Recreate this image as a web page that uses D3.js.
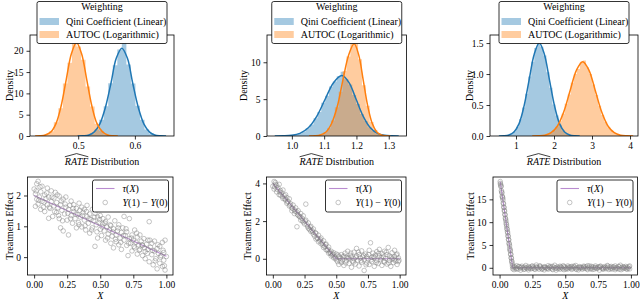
<!DOCTYPE html>
<html>
<head>
<meta charset="utf-8">
<script src="https://cdn.jsdelivr.net/npm/d3@7"></script>
<style>
  body { margin: 0; background: #fff; }
  text { font-family: 'Liberation Serif', 'DejaVu Serif', serif; }
</style>
</head>
<body>
<svg id="chart" width="640" height="300" font-family="Liberation Serif"></svg>
<script>
// ---- RATE bootstrap distributions: histogram bins [centre, density] ----
const binWidth1 = 0.008;
const qiniHist1 = [[0.501,0.01],[0.509,0.05],[0.517,0.2],[0.525,0.6],[0.533,1.5],[0.541,3.8],[0.549,7.0],[0.557,12.4],[0.565,16.6],[0.573,20.3],[0.581,22.6],[0.589,16.8],[0.597,12.3],[0.605,7.1],[0.613,3.8],[0.621,1.5],[0.629,0.6],[0.637,0.18],[0.645,0.04],[0.653,0.01]];
const autocHist1 = [[0.429,0.02],[0.437,0.1],[0.445,0.4],[0.453,1.1],[0.461,3.2],[0.469,6.5],[0.477,12.3],[0.485,17.2],[0.493,22.8],[0.501,21.0],[0.509,17.9],[0.517,11.6],[0.525,6.9],[0.533,2.9],[0.541,1.2],[0.549,0.35],[0.557,0.1],[0.565,0.02]];
const qiniKde1 = [[0.499,0.01],[0.509,0.05],[0.519,0.23],[0.528,0.9],[0.538,2.8],[0.548,6.7],[0.558,12.5],[0.567,18.2],[0.577,20.6],[0.587,18.2],[0.596,12.5],[0.606,6.7],[0.616,2.8],[0.626,0.9],[0.635,0.23],[0.645,0.05],[0.655,0.01]];
const autocKde1 = [[0.424,0.01],[0.433,0.05],[0.442,0.24],[0.452,0.96],[0.461,2.96],[0.470,7.1],[0.479,13.3],[0.488,19.3],[0.497,21.9],[0.506,19.3],[0.515,13.3],[0.524,7.1],[0.533,2.96],[0.543,0.96],[0.552,0.24],[0.561,0.05],[0.570,0.01]];

const binWidth2 = 0.012;
const qiniHist2 = [[0.965,0.01],[0.977,0.02],[0.989,0.05],[1.001,0.1],[1.013,0.2],[1.025,0.38],[1.037,0.6],[1.049,1.05],[1.061,1.55],[1.073,2.4],[1.085,3.25],[1.097,4.5],[1.109,5.45],[1.121,6.7],[1.133,7.4],[1.145,8.1],[1.157,8.7],[1.169,7.7],[1.181,7.0],[1.193,5.55],[1.205,4.35],[1.217,3.0],[1.229,2.05],[1.241,1.2],[1.253,0.7],[1.265,0.35],[1.277,0.18],[1.289,0.08],[1.301,0.03],[1.313,0.01],[1.325,0.005]];
const autocHist2 = [[1.055,0.005],[1.067,0.02],[1.079,0.06],[1.091,0.18],[1.103,0.46],[1.115,1.05],[1.127,2.1],[1.139,3.9],[1.151,6.0],[1.163,8.8],[1.175,10.8],[1.187,12.9],[1.199,13.3],[1.211,10.4],[1.223,6.9],[1.235,4.1],[1.247,1.9],[1.259,0.8],[1.271,0.26],[1.283,0.07],[1.295,0.02]];
const qiniKde2 = [[0.947,0.003],[0.973,0.02],[0.999,0.09],[1.025,0.36],[1.051,1.11],[1.077,2.67],[1.103,4.98],[1.129,7.23],[1.155,8.2],[1.177,7.23],[1.199,4.98],[1.221,2.67],[1.243,1.11],[1.265,0.36],[1.287,0.09],[1.309,0.02],[1.331,0.003]];
const autocKde2 = [[1.053,0.004],[1.071,0.03],[1.088,0.14],[1.106,0.55],[1.123,1.69],[1.141,4.06],[1.158,7.59],[1.176,11.0],[1.193,12.5],[1.207,11.0],[1.221,7.59],[1.235,4.06],[1.249,1.69],[1.263,0.55],[1.277,0.14],[1.291,0.03],[1.305,0.004]];

const binWidth3 = 0.08;
const qiniHist3 = [[0.72,0.005],[0.80,0.014],[0.88,0.034],[0.96,0.075],[1.04,0.15],[1.12,0.27],[1.20,0.46],[1.28,0.68],[1.36,0.96],[1.44,1.2],[1.52,1.42],[1.60,1.52],[1.68,1.44],[1.76,1.3],[1.84,1.03],[1.92,0.78],[2.00,0.51],[2.08,0.33],[2.16,0.18],[2.24,0.09],[2.32,0.045],[2.40,0.019],[2.48,0.008],[2.56,0.003]];
const autocHist3 = [[1.60,0.003],[1.68,0.006],[1.76,0.013],[1.84,0.027],[1.92,0.05],[2.00,0.09],[2.08,0.15],[2.16,0.24],[2.24,0.36],[2.32,0.52],[2.40,0.67],[2.48,0.86],[2.56,1.0],[2.64,1.08],[2.72,1.2],[2.80,1.22],[2.88,1.11],[2.96,1.0],[3.04,0.83],[3.12,0.66],[3.20,0.49],[3.28,0.34],[3.36,0.23],[3.44,0.14],[3.52,0.085],[3.60,0.047],[3.68,0.025],[3.76,0.012],[3.84,0.006],[3.92,0.003]];
const qiniKde3 = [[0.549,0.0005],[0.682,0.003],[0.815,0.017],[0.948,0.066],[1.081,0.2],[1.214,0.49],[1.347,0.91],[1.480,1.32],[1.613,1.5],[1.746,1.32],[1.879,0.91],[2.012,0.49],[2.145,0.2],[2.278,0.066],[2.411,0.017],[2.544,0.003],[2.677,0.0005]];
const autocKde3 = [[1.427,0.0004],[1.593,0.003],[1.759,0.013],[1.925,0.053],[2.091,0.162],[2.257,0.39],[2.423,0.73],[2.589,1.06],[2.755,1.2],[2.921,1.06],[3.087,0.73],[3.253,0.39],[3.419,0.162],[3.585,0.053],[3.751,0.013],[3.917,0.003],[4.083,0.0004]];

// ---- treatment effect curves and sampled Y(1) - Y(0) ----
const tauLinear = [[0.00,2.0],[1.00,0.03]];
const tauKink = [[0.00,4.0],[0.50,0.0],[1.00,0.0]];
const tauSpike = [[0.005,18.9],[0.10,0.0],[1.00,0.0]];

const scatterLinear = [[0.00,2.21],[0.01,1.65],[0.01,2.05],[0.02,1.88],[0.02,2.38],[0.03,1.72],[0.03,2.46],[0.04,1.95],[0.05,1.55],[0.05,2.12],[0.06,1.81],[0.06,2.30],[0.07,1.62],[0.08,2.02],[0.08,1.48],[0.09,1.90],[0.10,2.24],[0.10,1.70],[0.11,1.26],[0.11,1.95],[0.12,1.58],[0.13,2.15],[0.13,1.80],[0.14,1.32],[0.15,1.92],[0.15,1.66],[0.16,2.10],[0.17,1.45],[0.17,1.77],[0.18,1.60],[0.19,1.98],[0.19,1.25],[0.20,0.95],[0.20,1.70],[0.21,1.52],[0.22,1.88],[0.22,0.85],[0.23,1.40],[0.24,1.62],[0.24,1.95],[0.25,1.20],[0.26,1.55],[0.26,0.72],[0.27,1.68],[0.28,1.35],[0.28,1.82],[0.29,1.10],[0.30,1.48],[0.30,1.70],[0.31,1.25],[0.32,0.95],[0.32,1.58],[0.33,1.38],[0.34,1.75],[0.34,1.05],[0.35,1.30],[0.36,1.62],[0.36,0.98],[0.37,1.45],[0.38,1.20],[0.38,1.55],[0.39,0.88],[0.40,1.32],[0.40,1.68],[0.41,1.10],[0.42,1.40],[0.42,0.78],[0.43,1.22],[0.44,1.55],[0.44,0.95],[0.45,1.18],[0.46,1.42],[0.46,0.35],[0.47,1.05],[0.48,1.30],[0.48,0.62],[0.49,1.12],[0.50,0.90],[0.50,1.35],[0.51,0.70],[0.52,1.08],[0.52,1.25],[0.53,0.85],[0.54,1.15],[0.54,0.55],[0.55,0.98],[0.56,0.75],[0.56,1.30],[0.57,0.88],[0.58,0.45],[0.58,1.02],[0.59,0.68],[0.60,0.92],[0.60,0.30],[0.61,1.18],[0.62,0.72],[0.62,0.50],[0.63,0.85],[0.64,1.05],[0.64,0.40],[0.65,0.62],[0.66,0.80],[0.66,0.25],[0.67,0.95],[0.68,0.55],[0.68,1.32],[0.69,0.70],[0.70,0.38],[0.70,0.82],[0.71,0.05],[0.72,0.60],[0.72,1.25],[0.73,0.45],[0.74,0.72],[0.74,0.20],[0.75,0.55],[0.76,0.88],[0.76,0.30],[0.77,0.48],[0.78,0.65],[0.78,0.10],[0.79,0.40],[0.80,0.72],[0.80,0.25],[0.81,0.52],[0.82,0.05],[0.82,0.38],[0.83,0.60],[0.84,0.18],[0.84,-0.05],[0.85,0.42],[0.86,0.25],[0.86,0.55],[0.87,1.15],[0.87,-0.15],[0.88,0.32],[0.89,0.08],[0.89,0.45],[0.90,-0.25],[0.91,0.20],[0.91,0.52],[0.92,-0.05],[0.93,0.28],[0.93,-0.38],[0.94,0.12],[0.95,0.35],[0.95,-0.20],[0.96,0.05],[0.97,0.48],[0.97,-0.30],[0.98,0.15],[0.98,-0.10],[0.99,0.55],[0.99,-0.42],[1.00,0.02],
  [0.015,2.15],[0.035,1.85],[0.045,2.28],[0.075,1.78],[0.095,2.08],[0.115,1.62],[0.135,1.95],[0.155,1.48],[0.175,2.02],[0.185,1.35],[0.205,1.82],[0.215,1.18],[0.235,1.72],[0.255,1.42],[0.275,1.25],[0.295,1.58],[0.315,1.40],[0.335,1.12],[0.345,1.52],[0.365,1.35],[0.385,1.02],[0.395,1.48],[0.415,1.25],[0.435,0.88],[0.455,1.30],[0.475,0.82],[0.495,1.22],[0.515,0.98],[0.535,1.10],[0.555,0.62],[0.575,1.05],[0.595,0.82],[0.615,0.58],[0.635,0.95],[0.655,0.48],[0.675,0.70],[0.695,0.92],[0.715,0.45],[0.735,0.62],[0.755,0.35],[0.775,0.78],[0.795,0.22],[0.815,0.40],[0.835,0.30],[0.855,0.12],[0.875,0.55],[0.895,0.22],[0.915,-0.12],[0.935,0.40],[0.955,0.00],[0.975,0.22],[0.985,-0.28]];

const scatterKink = [[0.00,3.85],[0.01,4.10],[0.01,3.70],[0.02,3.95],[0.02,4.05],[0.03,3.55],[0.03,3.90],[0.04,3.78],[0.05,3.40],[0.05,3.95],[0.06,3.62],[0.06,3.38],[0.07,3.50],[0.08,3.20],[0.08,3.65],[0.09,3.35],[0.10,3.12],[0.10,3.40],[0.11,2.95],[0.11,3.25],[0.12,3.05],[0.13,2.80],[0.13,3.18],[0.14,2.92],[0.15,2.70],[0.15,2.55],[0.16,2.85],[0.17,2.60],[0.17,2.40],[0.18,2.70],[0.19,2.48],[0.19,1.70],[0.20,2.30],[0.20,2.55],[0.21,2.25],[0.22,2.40],[0.22,2.05],[0.23,2.15],[0.24,1.95],[0.24,2.28],[0.25,1.85],[0.26,2.05],[0.26,2.90],[0.27,1.80],[0.28,1.62],[0.28,1.90],[0.29,1.55],[0.30,1.72],[0.30,1.45],[0.31,1.50],[0.32,1.30],[0.32,1.58],[0.33,1.20],[0.34,1.35],[0.34,1.05],[0.35,1.10],[0.36,1.25],[0.36,0.90],[0.37,0.95],[0.38,0.80],[0.38,1.10],[0.39,0.85],[0.40,0.60],[0.40,0.95],[0.41,0.65],[0.42,0.48],[0.42,0.78],[0.43,0.45],[0.44,0.30],[0.44,0.62],[0.45,0.35],[0.46,0.15],[0.46,0.40],[0.47,0.20],[0.48,0.05],[0.48,0.32],[0.49,0.10],[0.50,-0.05],[0.50,0.25],[0.51,-0.15],[0.52,0.12],[0.52,-0.30],[0.53,0.05],[0.54,0.22],[0.54,-0.20],[0.55,-0.05],[0.56,0.15],[0.56,-0.35],[0.57,0.30],[0.58,-0.10],[0.58,0.08],[0.59,0.40],[0.60,-0.25],[0.60,0.02],[0.61,0.18],[0.62,-0.45],[0.62,0.10],[0.63,-0.12],[0.64,0.35],[0.64,0.00],[0.65,-0.28],[0.66,0.15],[0.66,0.55],[0.67,-0.08],[0.68,0.22],[0.68,-0.38],[0.69,0.05],[0.70,-0.18],[0.70,0.42],[0.71,0.10],[0.72,-0.62],[0.72,-0.05],[0.73,0.25],[0.74,-0.22],[0.74,0.12],[0.75,0.00],[0.76,0.45],[0.76,-0.30],[0.77,0.85],[0.78,0.08],[0.78,-0.15],[0.79,0.30],[0.80,-0.40],[0.80,0.05],[0.81,0.20],[0.82,-0.10],[0.82,0.38],[0.83,-0.25],[0.84,0.15],[0.84,0.50],[0.85,-0.05],[0.86,0.28],[0.86,-0.35],[0.87,0.10],[0.88,-0.18],[0.88,0.40],[0.89,0.02],[0.90,-0.28],[0.90,0.22],[0.91,0.60],[0.92,-0.08],[0.92,0.15],[0.93,-0.40],[0.94,0.32],[0.94,0.00],[0.95,-0.20],[0.96,0.12],[0.96,0.45],[0.97,-0.12],[0.98,0.25],[0.98,-0.30],[0.99,0.05],[0.99,-0.15],
  [0.015,3.82],[0.035,3.68],[0.055,3.55],[0.075,3.30],[0.095,3.18],[0.115,3.02],[0.135,2.85],[0.155,2.68],[0.175,2.52],[0.195,2.35],[0.215,2.22],[0.235,2.02],[0.255,2.00],[0.275,1.70],[0.295,1.68],[0.315,1.42],[0.335,1.38],[0.355,1.08],[0.375,1.02],[0.395,0.72],[0.415,0.75],[0.435,0.50],[0.455,0.28],[0.475,0.25],[0.495,0.02],[0.515,0.20],[0.535,-0.12],[0.555,0.10],[0.575,-0.22],[0.595,0.05],[0.615,0.30],[0.635,-0.18],[0.655,0.08],[0.675,0.35],[0.695,-0.10],[0.715,0.18],[0.735,-0.32],[0.755,0.22],[0.775,-0.05],[0.795,0.12],[0.815,-0.20],[0.835,0.28],[0.855,0.05],[0.875,-0.12],[0.895,0.35],[0.915,-0.22],[0.935,0.08],[0.955,-0.05],[0.975,0.20],[0.995,-0.08]];

const scatterSpike = [[0.005,18.9],[0.006,18.5],[0.008,18.2],[0.010,17.8],[0.012,17.9],[0.014,16.9],[0.016,16.6],[0.018,16.4],[0.020,15.7],[0.022,15.5],[0.024,15.3],[0.026,14.9],[0.028,14.2],[0.030,14.0],[0.032,13.3],[0.034,13.2],[0.036,12.6],[0.038,12.4],[0.040,11.7],[0.042,11.6],[0.044,10.9],[0.046,10.7],[0.048,10.3],[0.050,9.8],[0.052,9.5],[0.054,9.1],[0.056,8.6],[0.058,8.4],[0.060,7.9],[0.062,7.6],[0.064,7.0],[0.066,6.9],[0.068,6.2],[0.070,6.1],[0.072,5.4],[0.074,5.2],[0.076,4.8],[0.078,4.2],[0.080,3.9],[0.082,3.7],[0.084,3.0],[0.086,2.9],[0.088,2.2],[0.090,2.1],[0.092,1.5],[0.094,1.3],[0.096,0.9],[0.098,0.4],
  [0.10,-0.2],[0.11,0.3],[0.11,-0.4],[0.12,0.1],[0.13,-0.1],[0.13,0.45],[0.14,-0.3],[0.15,0.2],[0.16,-0.05],[0.16,-0.5],[0.17,0.35],[0.18,0.0],[0.19,-0.25],[0.19,0.15],[0.20,0.5],[0.21,-0.15],[0.22,0.25],[0.22,-0.45],[0.23,0.05],[0.24,-0.2],[0.25,0.4],[0.25,-0.1],[0.26,0.15],[0.27,-0.35],[0.28,0.2],[0.28,0.6],[0.29,-0.05],[0.30,-0.3],[0.31,0.1],[0.31,0.35],[0.32,-0.2],[0.33,0.0],[0.34,-0.45],[0.34,0.25],[0.35,0.05],[0.36,-0.15],[0.37,0.45],[0.37,-0.3],[0.38,0.1],[0.39,-0.05],[0.40,0.3],[0.40,-0.25],[0.41,0.15],[0.42,0.55],[0.43,-0.1],[0.43,-0.5],[0.44,0.2],[0.45,0.0],[0.46,-0.3],[0.46,0.35],[0.47,0.05],[0.48,-0.2],[0.49,0.25],[0.49,-0.4],[0.50,0.1],[0.51,-0.1],[0.52,0.4],[0.52,-0.25],[0.53,0.0],[0.54,0.2],[0.55,-0.35],[0.55,0.3],[0.56,-0.05],[0.57,0.15],[0.58,-0.2],[0.58,0.5],[0.59,0.05],[0.60,-0.45],[0.61,0.25],[0.61,-0.1],[0.62,0.1],[0.63,-0.3],[0.64,0.35],[0.64,0.0],[0.65,-0.15],[0.66,0.2],[0.67,-0.4],[0.67,0.45],[0.68,0.05],[0.69,-0.2],[0.70,0.3],[0.70,-0.05],[0.71,0.15],[0.72,-0.3],[0.73,0.0],[0.73,0.4],[0.74,-0.15],[0.75,0.2],[0.76,-0.5],[0.76,0.1],[0.77,0.35],[0.78,-0.1],[0.79,0.05],[0.79,-0.3],[0.80,0.25],[0.81,-0.2],[0.82,0.5],[0.82,0.0],[0.83,-0.35],[0.84,0.15],[0.85,-0.05],[0.85,0.3],[0.86,-0.25],[0.87,0.1],[0.88,-0.4],[0.88,0.4],[0.89,0.0],[0.90,-0.15],[0.91,0.2],[0.91,-0.3],[0.92,0.55],[0.93,0.05],[0.94,-0.2],[0.94,0.25],[0.95,-0.05],[0.96,0.3],[0.97,-0.35],[0.97,0.1],[0.98,-0.1],[0.99,0.4],[0.99,-0.25],
  [0.105,0.1],[0.125,-0.25],[0.145,0.3],[0.165,0.1],[0.185,-0.35],[0.205,0.05],[0.225,-0.1],[0.245,0.3],[0.265,-0.2],[0.285,0.05],[0.305,0.4],[0.325,-0.3],[0.345,0.1],[0.365,-0.05],[0.385,0.3],[0.405,-0.4],[0.425,0.0],[0.445,-0.2],[0.465,0.2],[0.485,0.45],[0.505,-0.3],[0.525,0.15],[0.545,-0.1],[0.565,0.35],[0.585,-0.35],[0.605,0.1],[0.625,-0.05],[0.645,0.25],[0.665,-0.2],[0.685,0.4],[0.705,-0.35],[0.725,0.1],[0.745,-0.05],[0.765,0.3],[0.785,-0.2],[0.805,0.05],[0.825,0.35],[0.845,-0.25],[0.865,0.2],[0.885,-0.1],[0.905,0.3],[0.925,-0.4],[0.945,0.1],[0.965,-0.15],[0.985,0.25]];

// ---- tick values and legend labels ----
const densityXTicks = [[0.5, 0.6], [1.0, 1.1, 1.2, 1.3], [1, 2, 3, 4]];
const densityYTicks = [[0, 5, 10, 15, 20], [0, 5, 10], [0, 0.5, 1.0, 1.5]];
const effectXTicks = [0, 0.25, 0.5, 0.75, 1.0];
const effectYTicks = [[0, 1, 2], [0, 2, 4], [0, 5, 10, 15]];
const weightingLabels = ["Qini Coefficient (Linear)", "AUTOC (Logarithmic)"];

const blue = "#1f77b4";
const orange = "#ff7f0e";
const purple = "#b98bd0";
const serif = "'Liberation Serif', 'DejaVu Serif', serif";

const svg = d3.select("#chart");
let clipId = 0;

const topPanels = [
  { x0: 30, x1: 174, xDomain: [0.415, 0.669], yDomain: [0, 23.7], xFmt: ".1f", yFmt: "d",
    bin: binWidth1, qini: qiniHist1, autoc: autocHist1, qiniKde: qiniKde1, autocKde: autocKde1, labelX: 9.5 },
  { x0: 267, x1: 406.5, xDomain: [0.923, 1.355], yDomain: [0, 13.7], xFmt: ".1f", yFmt: "d",
    bin: binWidth2, qini: qiniHist2, autoc: autocHist2, qiniKde: qiniKde2, autocKde: autocKde2, labelX: 243.5 },
  { x0: 490, x1: 638, xDomain: [0.316, 4.21], yDomain: [0, 1.63], xFmt: "d", yFmt: ".1f",
    bin: binWidth3, qini: qiniHist3, autoc: autocHist3, qiniKde: qiniKde3, autocKde: autocKde3, labelX: 469 },
];

const bottomPanels = [
  { x0: 27.5, x1: 173, yDomain: [-0.58, 2.6], tau: tauLinear, pts: scatterLinear, labelX: 9 },
  { x0: 266.5, x1: 406, yDomain: [-0.86, 4.34], tau: tauKink, pts: scatterKink, labelX: 247.5 },
  { x0: 493, x1: 637.5, yDomain: [-1.58, 19.9], tau: tauSpike, pts: scatterSpike, labelX: 470.5 },
];

function label(sel, size) {
  return sel.style("font-family", serif).style("font-size", size + "px").attr("fill", "#000");
}

function addClip(x0, y0, w, h) {
  const id = "clip" + (clipId++);
  svg.append("clipPath").attr("id", id)
    .append("rect").attr("x", x0).attr("y", y0).attr("width", w).attr("height", h);
  return `url(#${id})`;
}

function drawAxes(g, x, y, xTicks, xFmt, yTicks, yFmt) {
  const [yb, yt] = y.range();
  const [xl, xr] = x.range();
  const xa = g.append("g").attr("transform", `translate(0,${yb})`)
    .call(d3.axisBottom(x).tickValues(xTicks).tickFormat(d3.format(xFmt)).tickSize(3.5).tickPadding(2.5));
  const ya = g.append("g").attr("transform", `translate(${xl},0)`)
    .call(d3.axisLeft(y).tickValues(yTicks).tickFormat(d3.format(yFmt)).tickSize(3.5).tickPadding(3));
  for (const a of [xa, ya]) {
    a.attr("font-family", null).attr("font-size", null);
    a.select(".domain").remove();
    a.selectAll("line").attr("stroke", "#000").attr("stroke-width", 0.8);
    label(a.selectAll("text"), 9.5);
  }
  g.append("rect").attr("x", xl).attr("y", yt).attr("width", xr - xl).attr("height", yb - yt)
    .attr("fill", "none").attr("stroke", "#000").attr("stroke-width", 0.8);
}

// ---- top row: histograms + kde ----
topPanels.forEach((p, i) => {
  const g = svg.append("g");
  const x = d3.scaleLinear().domain(p.xDomain).range([p.x0, p.x1]);
  const y = d3.scaleLinear().domain(p.yDomain).range([136, 35]);
  const clip = addClip(p.x0, 35, p.x1 - p.x0, 101);
  const plot = g.append("g").attr("clip-path", clip);

  const stepArea = d3.area().x(d => x(d[0])).y0(y(0)).y1(d => y(d[1])).curve(d3.curveStepAfter);
  const edges = bins => bins.map(d => [d[0] - p.bin / 2, d[1]])
    .concat([[bins[bins.length - 1][0] + p.bin / 2, bins[bins.length - 1][1]]]);

  plot.append("path").datum(edges(p.qini)).attr("d", stepArea).attr("fill", blue).attr("fill-opacity", 0.4);
  plot.append("path").datum(edges(p.autoc)).attr("d", stepArea).attr("fill", orange).attr("fill-opacity", 0.4);

  const kde = d3.line().x(d => x(d[0])).y(d => y(d[1])).curve(d3.curveCatmullRom);
  plot.append("path").datum(p.qiniKde).attr("d", kde).attr("fill", "none").attr("stroke", blue).attr("stroke-width", 1.5);
  plot.append("path").datum(p.autocKde).attr("d", kde).attr("fill", "none").attr("stroke", orange).attr("stroke-width", 1.5);

  drawAxes(g, x, y, densityXTicks[i], p.xFmt, densityYTicks[i], p.yFmt);

  label(g.append("text"), 10).attr("transform", `translate(${p.labelX},85.5) rotate(-90)`)
    .attr("text-anchor", "middle").attr("dy", "0.35em").text("Density");

  // x label with a wide hat over RATE
  const cx = (p.x0 + p.x1) / 2;
  const lab = label(g.append("text"), 10).attr("x", cx).attr("y", 164.5).attr("text-anchor", "middle");
  lab.append("tspan").style("font-style", "italic").text("RATE");
  lab.append("tspan").text(" Distribution");
  const node = lab.node();
  const s = node.getStartPositionOfChar(0).x;
  const e = node.getEndPositionOfChar(3).x;
  g.append("path")
    .attr("d", `M${s},156.8 L${(s + e) / 2},153.6 L${e},156.8`)
    .attr("fill", "none").attr("stroke", "#000").attr("stroke-width", 0.75);

  // legend
  const bw = 130, bx = cx - bw / 2, by = 1.5;
  const lg = g.append("g").attr("transform", `translate(${bx},${by})`);
  lg.append("rect").attr("width", bw).attr("height", 42).attr("rx", 2)
    .attr("fill", "#fff").attr("stroke", "#000").attr("stroke-width", 0.8);
  label(lg.append("text"), 10).attr("x", bw / 2).attr("y", 8.8).attr("text-anchor", "middle").text("Weighting");
  [blue, orange].forEach((c, k) => {
    const yy = 16.5 + k * 13;
    lg.append("rect").attr("x", 2.5).attr("y", yy).attr("width", 19.5).attr("height", 7)
      .attr("fill", c).attr("fill-opacity", 0.4);
    label(lg.append("text"), 10).attr("x", 29).attr("y", yy + 7).text(weightingLabels[k]);
  });
});

// ---- bottom row: treatment effect scatter ----
bottomPanels.forEach((p, i) => {
  const g = svg.append("g");
  const x = d3.scaleLinear().domain([-0.05, 1.05]).range([p.x0, p.x1]);
  const y = d3.scaleLinear().domain(p.yDomain).range([275, 177]);
  const clip = addClip(p.x0, 177, p.x1 - p.x0, 98);
  const plot = g.append("g").attr("clip-path", clip);

  plot.append("path").datum(p.tau)
    .attr("d", d3.line().x(d => x(d[0])).y(d => y(d[1])))
    .attr("fill", "none").attr("stroke", purple).attr("stroke-width", 1.1);

  plot.selectAll("circle").data(p.pts).join("circle")
    .attr("cx", d => x(d[0])).attr("cy", d => y(d[1])).attr("r", 2.3)
    .attr("fill", "none").attr("stroke", "#808080").attr("stroke-opacity", 0.7).attr("stroke-width", 0.65);

  drawAxes(g, x, y, effectXTicks, ".2f", effectYTicks[i], "d");

  label(g.append("text"), 10).attr("transform", `translate(${p.labelX},226) rotate(-90)`)
    .attr("text-anchor", "middle").attr("dy", "0.35em").text("Treatment Effect");

  label(g.append("text"), 10).attr("x", (p.x0 + p.x1) / 2).attr("y", 298.5).attr("text-anchor", "middle")
    .style("font-style", "italic").text("X");

  // legend
  const bw = 76, bx = p.x1 - 4.5 - bw, by = 180;
  const lg = g.append("g").attr("transform", `translate(${bx},${by})`);
  lg.append("rect").attr("width", bw).attr("height", 32).attr("rx", 2)
    .attr("fill", "#fff").attr("stroke", "#000").attr("stroke-width", 0.8);
  lg.append("line").attr("x1", 3.5).attr("x2", 22).attr("y1", 8.5).attr("y2", 8.5)
    .attr("stroke", purple).attr("stroke-width", 1.1);
  lg.append("circle").attr("cx", 12.7).attr("cy", 22.5).attr("r", 2.3)
    .attr("fill", "none").attr("stroke", "#808080").attr("stroke-opacity", 0.7).attr("stroke-width", 0.65);

  const t1 = label(lg.append("text"), 10).attr("x", 30).attr("y", 12);
  t1.append("tspan").style("font-style", "italic").text("τ");
  t1.append("tspan").text("(");
  t1.append("tspan").style("font-style", "italic").text("X");
  t1.append("tspan").text(")");

  const t2 = label(lg.append("text"), 10).attr("x", 30).attr("y", 26);
  t2.append("tspan").style("font-style", "italic").text("Y");
  t2.append("tspan").text("(1) − ");
  t2.append("tspan").style("font-style", "italic").text("Y");
  t2.append("tspan").text("(0)");
});
</script>
</body>
</html>
